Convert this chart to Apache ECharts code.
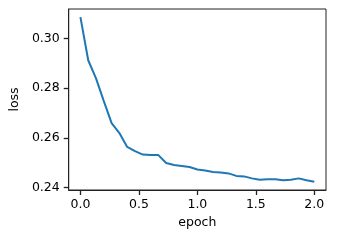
<!DOCTYPE html>
<html>
<head>
<meta charset="utf-8">
<script src="https://cdn.jsdelivr.net/npm/echarts@6/dist/echarts.min.js"></script>
<style>html,body{margin:0;padding:0;background:#fff}#c{width:359px;height:240px}</style>
</head>
<body>
<div id="c"></div>
<script>
const epochs = [0,1,2,3,4,5,6,7,8,9,10,11,12,13,14,15,16,17,18,19,20,21,22,23,24,25,26,27,28,29,30].map(k => k / 15);
const loss = [0.3087,0.2913,0.2840,0.2748,0.2659,0.2619,0.2563,0.2546,0.2532,0.2530,0.2530,0.2498,0.2490,0.2486,0.2482,0.2472,0.2468,0.2462,0.2460,0.2456,0.2446,0.2444,0.2436,0.2430,0.2432,0.2432,0.2428,0.2430,0.2436,0.2428,0.2422];
const xTicks = [0, 0.5, 1.0, 1.5, 2.0];
const yTicks = [0.24, 0.26, 0.28, 0.30];

const font = 'DejaVu Sans';
const chart = echarts.init(document.getElementById('c'), null, {renderer: 'canvas'});
chart.setOption({
  animation: false,
  grid: {left: 65, right: 33, top: 9, bottom: 50, show: true, borderColor: '#222', borderWidth: 1, backgroundColor: '#fff'},
  xAxis: {
    type: 'value', min: -0.1, max: 2.1,
    name: 'epoch', nameLocation: 'middle', nameGap: 25,
    nameTextStyle: {fontFamily: font, fontSize: 12.5, color: '#000'},
    axisLine: {show: true, onZero: false, lineStyle: {color: '#222', width: 1}},
    splitLine: {show: false},
    axisTick: {show: true, inside: false, customValues: xTicks, length: 5, lineStyle: {color: '#222', width: 1.3}},
    axisLabel: {customValues: xTicks, margin: 8, fontFamily: font, fontSize: 12.5, color: '#000', formatter: v => v.toFixed(1)}
  },
  yAxis: {
    type: 'value', min: 0.2389, max: 0.3120,
    name: 'loss', nameLocation: 'middle', nameGap: 43, nameRotate: 90,
    nameTextStyle: {fontFamily: font, fontSize: 12.5, color: '#000'},
    axisLine: {show: true, onZero: false, lineStyle: {color: '#222', width: 1}},
    splitLine: {show: false},
    axisTick: {show: true, inside: false, customValues: yTicks, length: 5, lineStyle: {color: '#222', width: 1.3}},
    axisLabel: {customValues: yTicks, margin: 9, fontFamily: font, fontSize: 12.5, color: '#000', formatter: v => v.toFixed(2)}
  },
  series: [{
    type: 'line',
    data: epochs.map((e, i) => [e, loss[i]]),
    showSymbol: false,
    lineStyle: {color: '#1f77b4', width: 2},
    itemStyle: {color: '#1f77b4'}
  }]
});
</script>
</body>
</html>
